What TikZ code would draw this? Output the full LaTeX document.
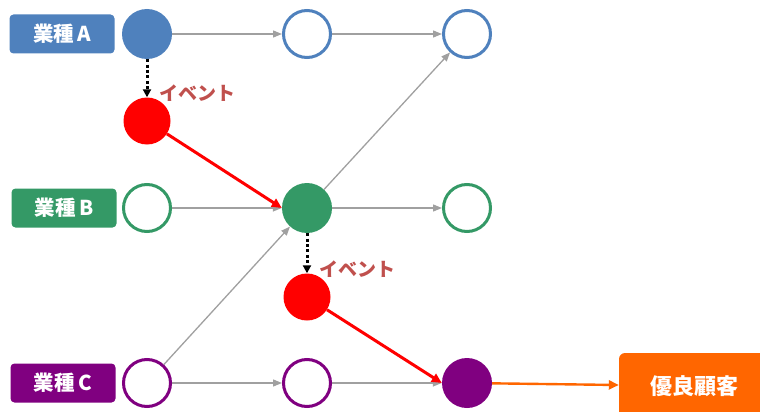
\documentclass[tikz,border=0pt]{standalone}
\usepackage{fontspec}
\setmainfont{Noto Sans CJK JP}
\usetikzlibrary{arrows.meta,positioning}
\definecolor{gyoA}{RGB}{79,129,189}
\definecolor{gyoB}{RGB}{52,153,102}
\definecolor{gyoC}{RGB}{128,0,128}
\definecolor{evred}{RGB}{255,0,0}
\definecolor{evtext}{RGB}{192,80,77}
\definecolor{goodorange}{RGB}{255,102,0}
\definecolor{flowgray}{RGB}{160,160,160}

\tikzset{
  gyobox/.style={rounded corners=4pt, fill=#1, text=white, inner sep=0pt,
    font=\bfseries\fontsize{20.5}{20.5}\selectfont, minimum width=105pt, minimum height=39pt},
  state/.style={circle, draw=#1, line width=3pt, fill=white, minimum size=47pt, inner sep=0pt},
  hit/.style={circle, fill=#1, minimum size=50pt, inner sep=0pt},
  evlabel/.style={text=evtext, font=\bfseries\fontsize{19}{19}\selectfont, inner sep=0pt},
  flow/.style={draw=flowgray, line width=1.3pt, -{Triangle[length=9pt,width=7pt]}},
  trigger/.style={black, line width=3pt, dash pattern=on 3pt off 2.4pt,
    -{Triangle[length=8pt,width=8pt]}},
  jump/.style={evred, line width=3pt, -{Triangle[length=10pt,width=9pt]}},
}

\begin{document}
\begin{tikzpicture}[x=1pt, y=-1pt]
    % page is 760 x 412, y grows downwards
    \clip (0,0) rectangle (760,412);
    % row labels
    \node[gyobox=gyoA] (lblA) at (62, 34) {業種\,A};
    \node[gyobox=gyoB] (lblB) at (64, 208) {業種\,B};
    \node[gyobox=gyoC] (lblC) at (63, 383) {業種\,C};
    % row A
    \node[hit=gyoA] (a1) at (147, 34) {};
    \node[state=gyoA] (a2) at (307, 34) {};
    \node[state=gyoA] (a3) at (467, 34) {};
    % row B
    \node[state=gyoB] (b1) at (147, 208) {};
    \node[hit=gyoB] (b2) at (307, 208) {};
    \node[state=gyoB] (b3) at (467, 208) {};
    % row C
    \node[state=gyoC] (c1) at (147, 383) {};
    \node[state=gyoC] (c2) at (307, 383) {};
    \node[hit=gyoC] (c3) at (467, 383) {};
    % events
    \node[hit=evred, minimum size=47pt] (ev1) at (147, 121) {};
    \node[evlabel] (ev1txt) at (197, 93) {イベント};
    \node[hit=evred, minimum size=47pt] (ev2) at (307, 297) {};
    \node[evlabel] (ev2txt) at (357, 269) {イベント};
    % result
    \node[rounded corners=6pt, fill=goodorange, text=white, minimum width=150pt,
      minimum height=66pt, font=\bfseries\fontsize{22}{22}\selectfont] (good) at (694, 386) {優良顧客};

    % plain flows
    \draw[flow] (a1) -- (a2);
    \draw[flow] (a2) -- (a3);
    \draw[flow] (b1) -- (b2);
    \draw[flow] (b2) -- (b3);
    \draw[flow] (b2) -- (a3);
    \draw[flow] (c1) -- (b2);
    \draw[flow] (c1) -- (c2);
    \draw[flow] (c2) -- (c3);
    % events
    \draw[trigger] (a1) -- (ev1);
    \draw[trigger] (b2) -- (ev2);
    \draw[jump] (ev1) -- (b2.west);
    \draw[jump] (ev2) -- (c3.west);
    \draw[goodorange, line width=2.4pt, -{Triangle[length=10pt,width=9pt]}] (c3) -- (good);
\end{tikzpicture}
\end{document}
